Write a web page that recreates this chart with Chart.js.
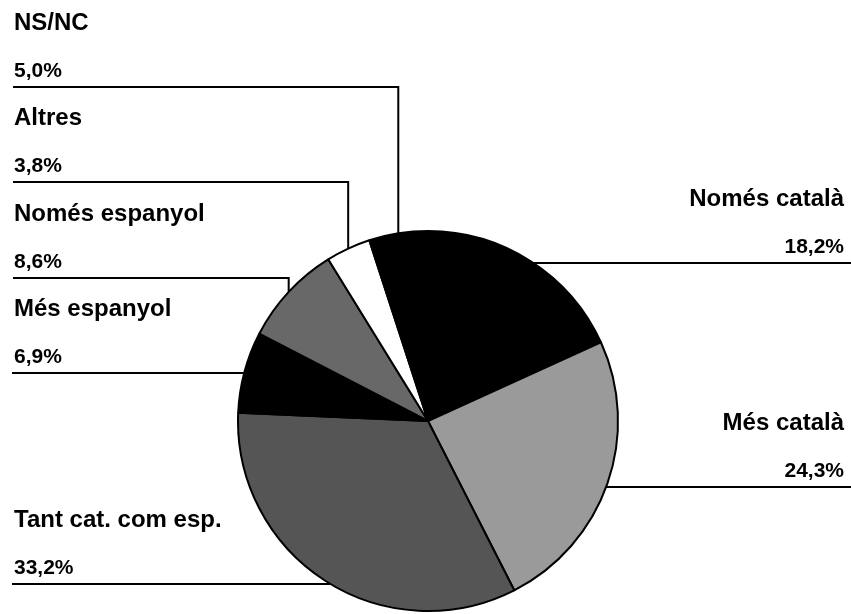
<!DOCTYPE html>
<html lang="ca">
<head>
<meta charset="utf-8">
<title>Llengua</title>
<script src="https://cdn.jsdelivr.net/npm/chart.js@4/dist/chart.umd.min.js"></script>
<style>
    html, body { margin: 0; padding: 0; background: #fff; }
    canvas { display: block; }
</style>
</head>
<body>
<canvas id="llenguaChart" width="851" height="614"></canvas>
<script>
// Dades del gràfic
const categories = ['Només català', 'Més català', 'Tant cat. com esp.', 'Més espanyol', 'Només espanyol', 'Altres', 'NS/NC'];
const values = [18.2, 24.3, 33.2, 6.9, 8.6, 3.8, 5.0];

// Colors de cada sector
const sliceColors = ['#000000', '#9a9a9a', '#555555', '#000000', '#686868', '#ffffff', '#000000'];

// Posició de les etiquetes: costat, alçada de la línia guia i si baixa en angle
const labelSide = ['right', 'right', 'left', 'left', 'left', 'left', 'left'];
const labelLineY = [263, 487, 584, 373, 278, 182, 87];
const labelElbow = [false, false, false, false, true, true, true];

function formatPercent(v) {
    return v.toFixed(1).replace('.', ',') + '%';
}

// Etiquetes amb línies guia cap al sector
const leaderLabels = {
    id: 'leaderLabels',
    afterDraw(chart) {
        const ctx = chart.ctx;
        const meta = chart.getDatasetMeta(0);
        const W = chart.width;

        ctx.save();
        ctx.strokeStyle = '#000';
        ctx.lineWidth = 2;
        ctx.fillStyle = '#000';
        ctx.textBaseline = 'alphabetic';

        meta.data.forEach((arc, i) => {
            const cx = arc.x, cy = arc.y, R = arc.outerRadius;
            const mid = (arc.startAngle + arc.endAngle) / 2;
            const lineY = labelLineY[i];
            const left = labelSide[i] === 'left';

            ctx.beginPath();
            if (labelElbow[i]) {
                const mx = cx + Math.cos(mid) * R;
                const my = cy + Math.sin(mid) * R;
                ctx.moveTo(13, lineY);
                ctx.lineTo(mx, lineY);
                ctx.lineTo(mx, my);
            } else {
                const dy = lineY - cy;
                const dx = Math.sqrt(Math.max(R * R - dy * dy, 0));
                if (left) {
                    ctx.moveTo(12, lineY);
                    ctx.lineTo(cx - dx, lineY);
                } else {
                    ctx.moveTo(cx + dx, lineY);
                    ctx.lineTo(W, lineY);
                }
            }
            ctx.stroke();

            ctx.textAlign = left ? 'left' : 'right';
            const tx = left ? 14 : 844;
            ctx.font = 'bold 24px "Liberation Sans", Arial, sans-serif';
            ctx.fillText(categories[i], tx, lineY - 57);
            ctx.font = 'bold 21px "Liberation Sans", Arial, sans-serif';
            ctx.fillText(formatPercent(values[i]), tx, lineY - 10);
        });
        ctx.restore();
    }
};

const ctx = document.getElementById('llenguaChart').getContext('2d');

const config = {
    type: 'pie',
    data: {
        labels: categories,
        datasets: [{
            data: values,
            backgroundColor: sliceColors,
            borderColor: '#000',
            borderWidth: 2
        }]
    },
    options: {
        responsive: false,
        animation: false,
        rotation: 0,
        layout: {
            padding: { left: 237, right: 232, top: 230, bottom: 2 }
        },
        plugins: {
            legend: { display: false },
            tooltip: { enabled: false }
        }
    },
    plugins: [leaderLabels]
};

const llenguaChart = new Chart(ctx, config);
</script>
</body>
</html>
